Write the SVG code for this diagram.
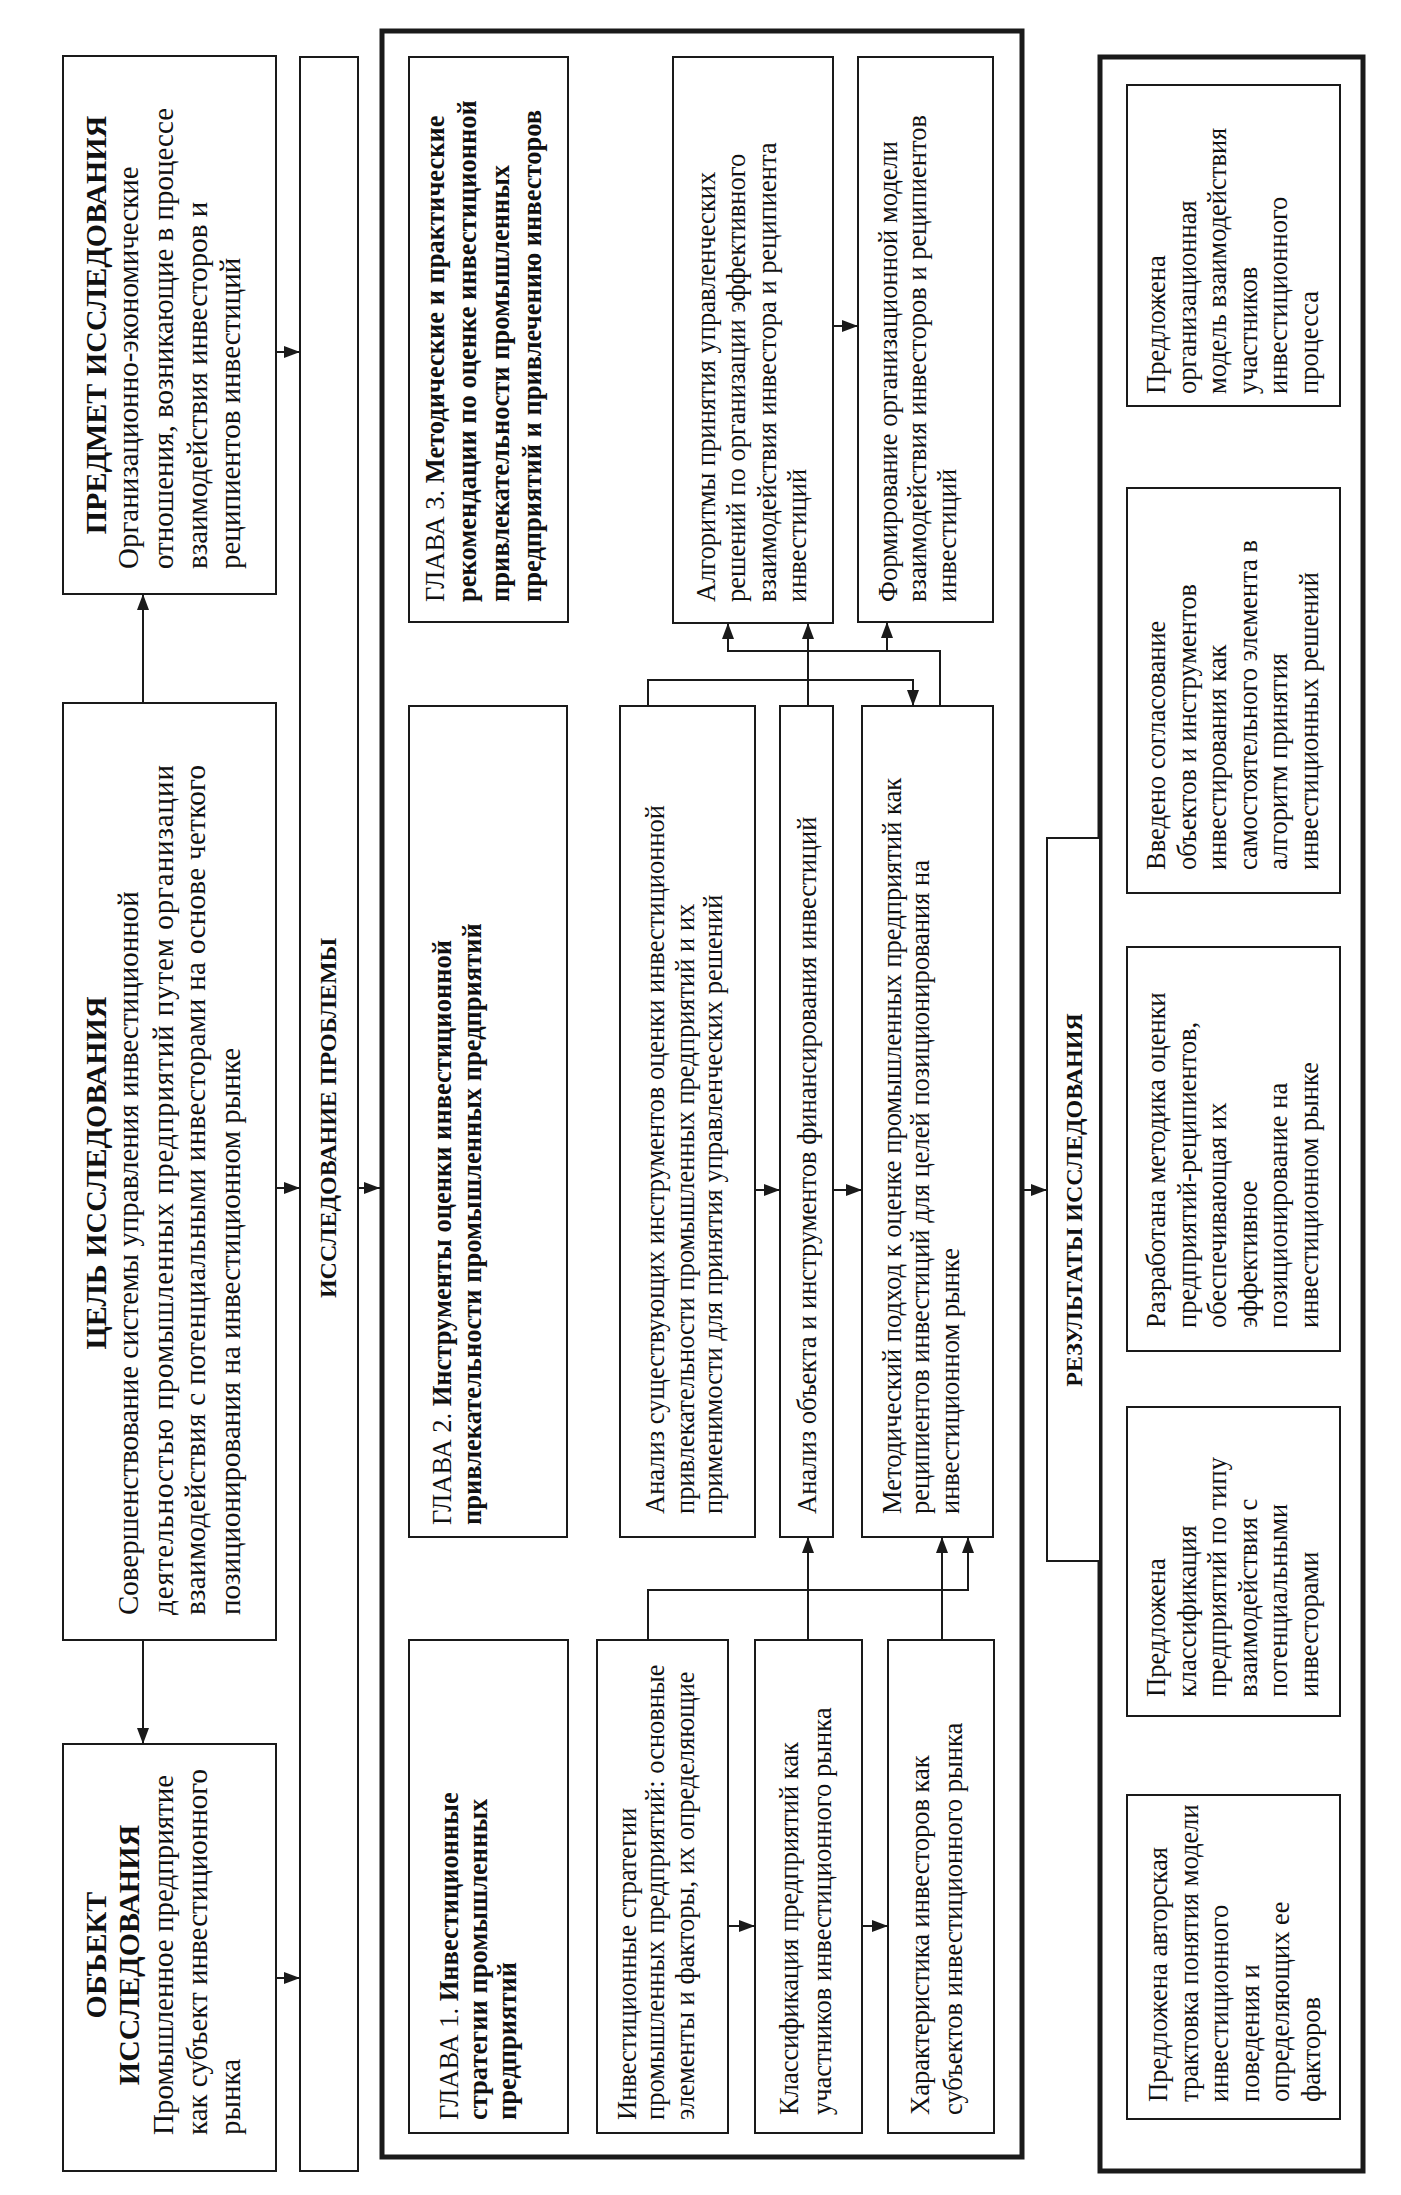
<svg xmlns="http://www.w3.org/2000/svg" width="1401" height="2195" viewBox="0 0 1401 2195">
<style>
rect{fill:#fff;stroke:#1a1a1a;stroke-width:2}
rect.thick{fill:none;stroke-width:5}
.con path{fill:none;stroke:#1a1a1a;stroke-width:2}
text{font-family:"Liberation Serif","Times New Roman",serif;fill:#111;dominant-baseline:central}
.L{font-size:29px}
.H{font-size:30px;font-weight:bold;text-anchor:middle}
.C{font-size:26.5px}
.HB{font-size:24px;font-weight:bold;text-anchor:middle}
.b{font-weight:bold}
.n{font-weight:normal}
</style>
<defs>
<marker id="ah" viewBox="0 0 16 12" refX="16" refY="6" markerWidth="16" markerHeight="12" markerUnits="userSpaceOnUse" orient="auto"><path d="M0,0 L16,6 L0,12 z" fill="#1a1a1a"/></marker>
</defs>
<rect width="1401" height="2195" style="fill:#fff;stroke:none"/>

<g id="frame-chapters"><rect class="thick" x="382" y="31" width="640" height="2126"/></g>
<g id="frame-results"><rect class="thick" x="1100" y="57" width="263" height="2114"/></g>

<g id="predmet">
<rect x="63" y="56" width="213" height="538"/>
<g transform="rotate(-90)">
<text class="H" x="-325" y="95">ПРЕДМЕТ ИССЛЕДОВАНИЯ</text>
<text class="L" x="-569" y="128">Организационно-экономические</text>
<text class="L" x="-569" y="163">отношения, возникающие в процессе</text>
<text class="L" x="-569" y="197">взаимодействия инвесторов и</text>
<text class="L" x="-569" y="230">реципиентов инвестиций</text>
</g></g>

<g id="cel">
<rect x="63" y="703" width="213" height="937"/>
<g transform="rotate(-90)">
<text class="H" x="-1173" y="95">ЦЕЛЬ ИССЛЕДОВАНИЯ</text>
<text class="L" x="-1615" y="128">Совершенствование системы управления инвестиционной</text>
<text class="L" x="-1615" y="163" textLength="850">деятельностью промышленных предприятий путем организации</text>
<text class="L" x="-1615" y="195" textLength="850">взаимодействия с потенциальными инвесторами на основе четкого</text>
<text class="L" x="-1615" y="230">позиционирования на инвестиционном рынке</text>
</g></g>

<g id="obekt">
<rect x="63" y="1744" width="213" height="427"/>
<g transform="rotate(-90)">
<text class="H" x="-1955" y="95">ОБЪЕКТ</text>
<text class="H" x="-1955" y="128">ИССЛЕДОВАНИЯ</text>
<text class="L" x="-2135" y="163">Промышленное предприятие</text>
<text class="L" x="-2135" y="197">как субъект инвестиционного</text>
<text class="L" x="-2135" y="230">рынка</text>
</g></g>

<g id="issledovanie">
<rect x="300" y="57" width="58" height="2114"/>
<g transform="rotate(-90)"><text class="HB" x="-1118" y="328">ИССЛЕДОВАНИЕ ПРОБЛЕМЫ</text></g>
</g>

<g id="glava3">
<rect x="409" y="57" width="159" height="565"/>
<g transform="rotate(-90)">
<text class="C b" x="-602" y="435"><tspan class="n">ГЛАВА 3. </tspan>Методические и практические</text>
<text class="C b" x="-602" y="467">рекомендации по оценке инвестиционной</text>
<text class="C b" x="-602" y="500">привлекательности промышленных</text>
<text class="C b" x="-602" y="532">предприятий и привлечению инвесторов</text>
</g></g>

<g id="algoritmy">
<rect x="673" y="57" width="160" height="566"/>
<g transform="rotate(-90)">
<text class="C" x="-602" y="706">Алгоритмы принятия управленческих</text>
<text class="C" x="-602" y="736">решений по организации эффективного</text>
<text class="C" x="-602" y="767">взаимодействия инвестора и реципиента</text>
<text class="C" x="-602" y="797">инвестиций</text>
</g></g>

<g id="formirovanie">
<rect x="858" y="57" width="135" height="565"/>
<g transform="rotate(-90)">
<text class="C" x="-602" y="888">Формирование организационной модели</text>
<text class="C" x="-602" y="917">взаимодействия инвесторов и реципиентов</text>
<text class="C" x="-602" y="947">инвестиций</text>
</g></g>

<g id="glava2">
<rect x="409" y="706" width="158" height="831"/>
<g transform="rotate(-90)">
<text class="C b" x="-1525" y="442"><tspan class="n">ГЛАВА 2. </tspan>Инструменты оценки инвестиционной</text>
<text class="C b" x="-1525" y="472">привлекательности промышленных предприятий</text>
</g></g>

<g id="analiz-instr">
<rect x="620" y="706" width="135" height="831"/>
<g transform="rotate(-90)">
<text class="C" x="-1514" y="655">Анализ существующих инструментов оценки инвестиционной</text>
<text class="C" x="-1514" y="685">привлекательности промышленных предприятий и их</text>
<text class="C" x="-1514" y="713">применимости для принятия управленческих решений</text>
</g></g>

<g id="analiz-obekta">
<rect x="780" y="706" width="53" height="831"/>
<g transform="rotate(-90)">
<text class="C" x="-1514" y="807">Анализ объекта и инструментов финансирования инвестиций</text>
</g></g>

<g id="metod-podhod">
<rect x="862" y="706" width="131" height="831"/>
<g transform="rotate(-90)">
<text class="C" x="-1514" y="892">Методический подход к оценке промышленных предприятий как</text>
<text class="C" x="-1514" y="920">реципиентов инвестиций для целей позиционирования на</text>
<text class="C" x="-1514" y="950">инвестиционном рынке</text>
</g></g>

<g id="glava1">
<rect x="409" y="1640" width="159" height="493"/>
<g transform="rotate(-90)">
<text class="C b" x="-2120" y="449"><tspan class="n">ГЛАВА 1. </tspan>Инвестиционные</text>
<text class="C b" x="-2120" y="478">стратегии промышленных</text>
<text class="C b" x="-2120" y="507">предприятий</text>
</g></g>

<g id="inv-strategii">
<rect x="597" y="1640" width="131" height="493"/>
<g transform="rotate(-90)">
<text class="C" x="-2120" y="627">Инвестиционные стратегии</text>
<text class="C" x="-2120" y="655">промышленных предприятий: основные</text>
<text class="C" x="-2120" y="685">элементы и  факторы, их определяющие</text>
</g></g>

<g id="klassifikaciya">
<rect x="755" y="1640" width="107" height="493"/>
<g transform="rotate(-90)">
<text class="C" x="-2115" y="789">Классификация предприятий как</text>
<text class="C" x="-2115" y="822">участников инвестиционного рынка</text>
</g></g>

<g id="harakteristika">
<rect x="888" y="1640" width="106" height="493"/>
<g transform="rotate(-90)">
<text class="C" x="-2115" y="920">Характеристика инвесторов как</text>
<text class="C" x="-2115" y="953">субъектов инвестиционного рынка</text>
</g></g>

<g id="rezultaty">
<rect x="1047" y="838" width="53" height="723"/>
<g transform="rotate(-90)"><text class="HB" x="-1200" y="1074">РЕЗУЛЬТАТЫ ИССЛЕДОВАНИЯ</text></g>
</g>

<g id="res1">
<rect x="1127" y="85" width="213" height="321"/>
<g transform="rotate(-90)">
<text class="C" x="-394" y="1156">Предложена</text>
<text class="C" x="-394" y="1187">организационная</text>
<text class="C" x="-394" y="1217">модель взаимодействия</text>
<text class="C" x="-394" y="1248">участников</text>
<text class="C" x="-394" y="1278">инвестиционного</text>
<text class="C" x="-394" y="1309">процесса</text>
</g></g>

<g id="res2">
<rect x="1127" y="488" width="213" height="405"/>
<g transform="rotate(-90)">
<text class="C" x="-870" y="1156">Введено согласование</text>
<text class="C" x="-870" y="1187">объектов и инструментов</text>
<text class="C" x="-870" y="1217">инвестирования как</text>
<text class="C" x="-870" y="1248">самостоятельного элемента в</text>
<text class="C" x="-870" y="1278">алгоритм принятия</text>
<text class="C" x="-870" y="1309">инвестиционных решений</text>
</g></g>

<g id="res3">
<rect x="1127" y="947" width="213" height="404"/>
<g transform="rotate(-90)">
<text class="C" x="-1328" y="1156">Разработана методика оценки</text>
<text class="C" x="-1328" y="1187">предприятий-реципиентов,</text>
<text class="C" x="-1328" y="1217">обеспечивающая их</text>
<text class="C" x="-1328" y="1248">эффективное</text>
<text class="C" x="-1328" y="1278">позиционирование на</text>
<text class="C" x="-1328" y="1309">инвестиционном рынке</text>
</g></g>

<g id="res4">
<rect x="1127" y="1407" width="213" height="309"/>
<g transform="rotate(-90)">
<text class="C" x="-1697" y="1156">Предложена</text>
<text class="C" x="-1697" y="1187">классификация</text>
<text class="C" x="-1697" y="1217">предприятий по типу</text>
<text class="C" x="-1697" y="1248">взаимодействия с</text>
<text class="C" x="-1697" y="1278">потенциальными</text>
<text class="C" x="-1697" y="1309">инвесторами</text>
</g></g>

<g id="res5">
<rect x="1127" y="1795" width="213" height="324"/>
<g transform="rotate(-90)">
<text class="C" x="-2102" y="1158">Предложена авторская</text>
<text class="C" x="-2102" y="1189">трактовка понятия модели</text>
<text class="C" x="-2102" y="1219">инвестиционного</text>
<text class="C" x="-2102" y="1250">поведения и</text>
<text class="C" x="-2102" y="1280">определяющих ее</text>
<text class="C" x="-2102" y="1311">факторов</text>
</g></g>

<g id="connectors" class="con">
<path d="M143 703 V594" marker-end="url(#ah)"/>
<path d="M143 1640 V1744" marker-end="url(#ah)"/>
<path d="M276 352 H300" marker-end="url(#ah)"/>
<path d="M276 1188 H300" marker-end="url(#ah)"/>
<path d="M276 1978 H300" marker-end="url(#ah)"/>
<path d="M358 1188 H380" marker-end="url(#ah)"/>
<path d="M755 1190 H780" marker-end="url(#ah)"/>
<path d="M833 1190 H862" marker-end="url(#ah)"/>
<path d="M1024 1190 H1047" marker-end="url(#ah)"/>
<path d="M833 326 H858" marker-end="url(#ah)"/>
<path d="M728 1926 H755" marker-end="url(#ah)"/>
<path d="M862 1926 H888" marker-end="url(#ah)"/>
<path d="M648 706 V680 H913 V706" marker-end="url(#ah)"/>
<path d="M940 706 V651 H728 V623" marker-end="url(#ah)"/>
<path d="M887 651 V622" marker-end="url(#ah)"/>
<path d="M808 706 V623" marker-end="url(#ah)"/>
<path d="M648 1640 V1590 H968 V1537" marker-end="url(#ah)"/>
<path d="M808 1640 V1537" marker-end="url(#ah)"/>
<path d="M942 1640 V1537" marker-end="url(#ah)"/>
</g>
</svg>
